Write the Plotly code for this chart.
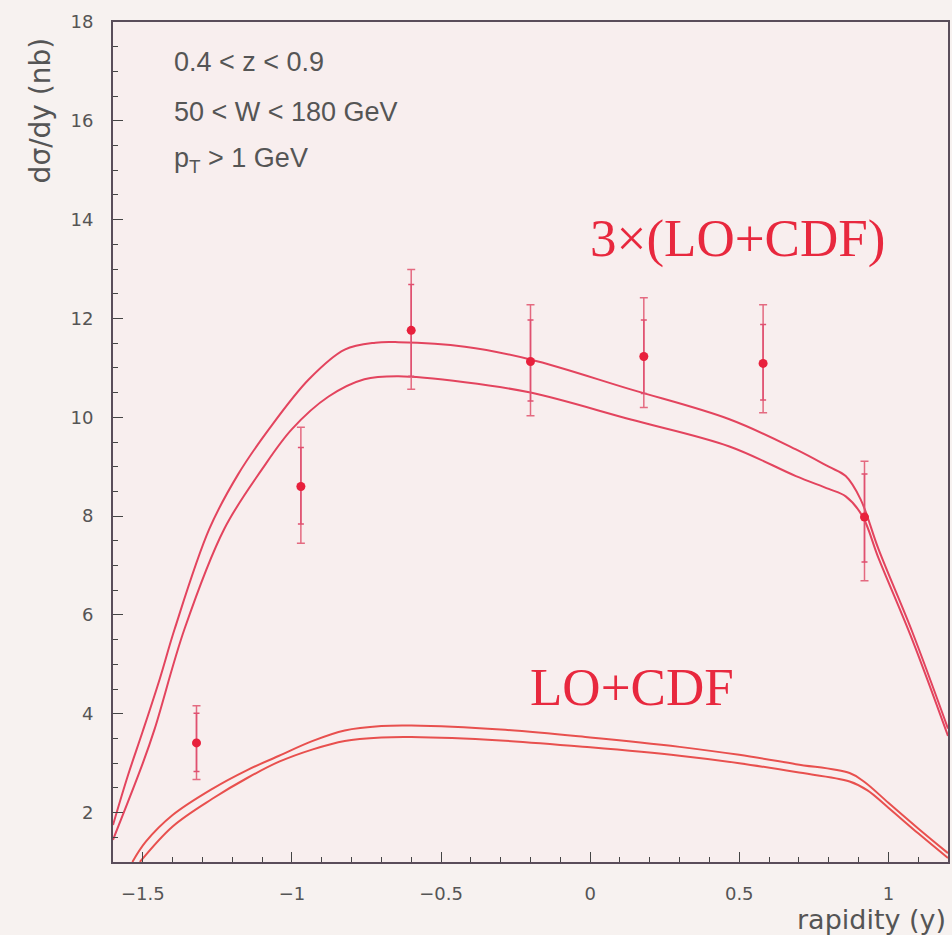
import plotly.graph_objects as go

# ---- theory curves ----
up3_x = [-1.6, -1.55, -1.5, -1.443, -1.393, -1.277, -1.18, -1.077, -0.943, -0.823, -0.72, -0.643,
         -0.42, -0.2, 0.133, 0.467, 0.69, 0.8, 0.857, 0.907, 0.967, 1.08, 1.2]
up3_y = [1.75, 2.75, 3.65, 4.71, 5.72, 7.74, 8.85, 9.76, 10.77, 11.37, 11.51, 11.52,
         11.43, 11.17, 10.57, 9.96, 9.35, 9.0, 8.81, 8.34, 7.33, 5.66, 3.7]

lo3_x = [-1.6, -1.5, -1.46, -1.36, -1.227, -1.1, -1.0, -0.877, -0.757, -0.643, -0.42, -0.2,
         0.133, 0.467, 0.69, 0.8, 0.857, 0.913, 0.967, 1.08, 1.2]
lo3_y = [1.45, 3.0, 3.7, 5.72, 7.74, 8.95, 9.76, 10.42, 10.77, 10.83, 10.71, 10.5,
         9.96, 9.41, 8.81, 8.55, 8.4, 8.0, 7.15, 5.5, 3.55]

up1_x = [-1.535, -1.49, -1.4, -1.267, -1.15, -1.043, -0.93, -0.823, -0.7, -0.6, -0.3, 0.0,
         0.3, 0.5, 0.69, 0.87, 0.92, 1.0, 1.1, 1.2]
up1_y = [1.0, 1.41, 1.95, 2.48, 2.86, 3.15, 3.45, 3.66, 3.75, 3.76, 3.68, 3.52,
         3.33, 3.17, 2.98, 2.8, 2.62, 2.2, 1.68, 1.18]

lo1_x = [-1.51, -1.4, -1.267, -1.15, -1.043, -0.93, -0.823, -0.7, -0.6, -0.3, 0.0, 0.3,
         0.5, 0.69, 0.87, 0.93, 1.0, 1.1, 1.2]
lo1_y = [1.0, 1.72, 2.28, 2.7, 3.03, 3.28, 3.45, 3.52, 3.53, 3.46, 3.32, 3.15,
         3.0, 2.82, 2.63, 2.45, 2.1, 1.58, 1.08]

# ---- data points ----
pt_x = [-1.32, -0.97, -0.6, -0.2, 0.18, 0.58, 0.92]
pt_y = [3.41, 8.60, 11.76, 11.13, 11.23, 11.09, 7.98]
stat_up = [0.60, 0.79, 0.93, 0.84, 0.74, 0.79, 0.87]
stat_dn = [0.58, 0.76, 0.93, 0.80, 0.75, 0.74, 0.91]
tot_up = [0.75, 1.20, 1.23, 1.15, 1.19, 1.19, 1.13]
tot_dn = [0.74, 1.15, 1.19, 1.10, 1.03, 1.00, 1.29]

RED = "#e3445e"
LORED = "#e8504e"

fig = go.Figure()
for xs, ys, col in [(up3_x, up3_y, RED), (lo3_x, lo3_y, RED),
                    (up1_x, up1_y, LORED), (lo1_x, lo1_y, LORED)]:
    fig.add_trace(go.Scatter(x=xs, y=ys, mode="lines",
                             line=dict(color=col, width=2, shape="spline", smoothing=1.0),
                             hoverinfo="skip", showlegend=False))

fig.add_trace(go.Scatter(x=pt_x, y=pt_y, mode="markers",
                         marker=dict(size=1, color="rgba(0,0,0,0)"),
                         error_y=dict(type="data", symmetric=False, array=tot_up, arrayminus=tot_dn,
                                      color="#e46a80", thickness=1.5, width=4),
                         showlegend=False))
fig.add_trace(go.Scatter(x=pt_x, y=pt_y, mode="markers",
                         marker=dict(size=9, color="#e8203c"),
                         error_y=dict(type="data", symmetric=False, array=stat_up, arrayminus=stat_dn,
                                      color="#e05070", thickness=1.5, width=3),
                         showlegend=False))

txt_font = dict(family="Liberation Sans", size=27, color="#555555")
for t, yv in [("0.4 &lt; z &lt; 0.9", 17.19), ("50 &lt; W &lt; 180 GeV", 16.18),
              ("p<sub>T</sub> &gt; 1 GeV", 15.21)]:
    fig.add_annotation(x=-1.403, y=yv, xref="x", yref="y", text=t, showarrow=False,
                       xanchor="left", yanchor="middle", font=txt_font)

fig.add_annotation(x=0.493, y=13.62, xref="x", yref="y", text="3×(LO+CDF)", showarrow=False,
                   xanchor="center", yanchor="middle",
                   font=dict(family="Liberation Serif", size=53, color="#e8283e"))
fig.add_annotation(x=0.14, y=4.55, xref="x", yref="y", text="LO+CDF", showarrow=False,
                   xanchor="center", yanchor="middle",
                   font=dict(family="Liberation Serif", size=53, color="#e8283e"))

fig.add_annotation(x=-0.0872, y=0.895, xref="paper", yref="paper", text="dσ/dy (nb)",
                   showarrow=False, textangle=-90, xanchor="center", yanchor="middle",
                   font=dict(family="DejaVu Sans", size=28, color="#555555"))
fig.add_annotation(x=1.0, y=0, xref="paper", yref="paper", text="rapidity (y)", showarrow=False,
                   xanchor="right", yanchor="top", yshift=-40,
                   font=dict(family="DejaVu Sans", size=27, color="#555555"))

axis_common = dict(showgrid=False, zeroline=False, showline=True, linecolor="#5a4d5a", linewidth=2,
                   mirror=True, ticks="inside", tickcolor="#444444", tickwidth=1.2,
                   tickfont=dict(family="DejaVu Sans", size=18, color="#555555"))

fig.update_xaxes(range=[-1.6, 1.2], tick0=0, dtick=0.5, ticklen=10, ticklabelstandoff=14,
                 minor=dict(dtick=0.1, ticks="inside", ticklen=5, tickcolor="#444444"),
                 **axis_common)
fig.update_yaxes(range=[1, 18], tick0=0, dtick=2, ticklen=10, ticklabelstandoff=14,
                 minor=dict(dtick=0.5, ticks="inside", ticklen=5, tickcolor="#444444"),
                 **axis_common)

fig.update_layout(width=952, height=935, margin=dict(l=113, r=2, t=22, b=73),
                  paper_bgcolor="#f7f2f0", plot_bgcolor="#f8eeee", showlegend=False)

fig.write_html("out.html")
